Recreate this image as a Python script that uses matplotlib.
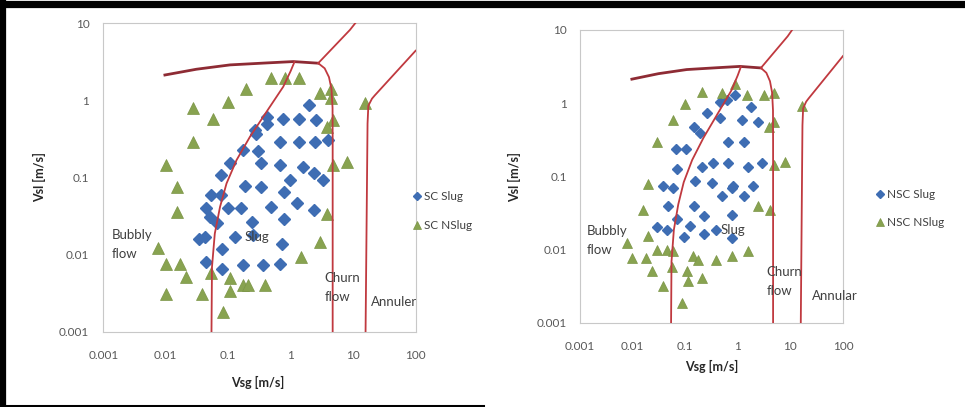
import matplotlib.pyplot as plt
from matplotlib.lines import Line2D
from matplotlib.ticker import FixedLocator, FixedFormatter, NullLocator

# ---------------------------------------------------------------
# flow regime map boundaries (same map on both panels)
# ---------------------------------------------------------------
bubbly_slug_vsg = [0.054, 0.055, 0.061, 0.074, 0.094, 0.136, 0.223, 0.412, 0.76, 1.0, 1.15]
bubbly_slug_vsl = [0.001, 0.0069, 0.0187, 0.0416, 0.0836, 0.168, 0.337, 0.713, 1.5, 2.4, 3.15]

dispersed_vsg = [0.0097, 0.031, 0.107, 0.40, 1.1, 2.76]
dispersed_vsl = [2.13, 2.53, 2.88, 3.05, 3.18, 3.03]

upper_vsg = [2.76, 8.9, 10.8]
upper_vsl = [3.03, 8.2, 10.0]

slug_churn_vsg = [2.76, 3.5, 4.1, 4.5, 4.68, 4.7, 4.7]
slug_churn_vsl = [3.03, 2.6, 2.0, 1.4, 0.8, 0.3, 0.001]

annular_vsg = [15.8, 17.0, 17.5, 20.0, 22.0, 100.0]
annular_vsl = [0.001, 0.5, 0.85, 1.05, 1.15, 4.4]

# ---------------------------------------------------------------
# measured points
# ---------------------------------------------------------------
sc_slug_vsg = [1.99, 0.42, 0.42, 0.74, 1.37, 2.54, 0.27, 0.28, 0.17, 0.30,
               0.67, 1.37, 2.44, 4.0, 0.34, 0.67, 1.59, 2.36, 3.32, 0.107,
               0.078, 0.97, 0.185, 0.334, 0.78, 0.054, 0.078, 0.0435, 0.10, 0.16,
               0.477, 1.24, 2.36, 0.051, 0.065, 0.237, 0.78, 0.0344, 0.0425, 0.128,
               0.246, 0.716, 0.080, 0.0435, 0.080, 0.17, 0.364, 0.673]
sc_slug_vsl = [0.87, 0.61, 0.50, 0.58, 0.58, 0.56, 0.41, 0.37, 0.23, 0.22,
               0.29, 0.29, 0.29, 0.305, 0.152, 0.145, 0.138, 0.113, 0.092, 0.152,
               0.107, 0.092, 0.077, 0.0756, 0.065, 0.059, 0.059, 0.0396, 0.0396, 0.0396,
               0.0416, 0.047, 0.0376, 0.0308, 0.0253, 0.0266, 0.0285, 0.0157, 0.0170, 0.0170,
               0.0178, 0.0139, 0.0117, 0.0080, 0.0065, 0.0073, 0.0073, 0.0076]

sc_nslug_vsg = [0.0101, 0.0149, 0.0149, 0.0276, 0.0577, 0.0276, 0.100, 0.192, 0.477, 0.81,
                1.37, 2.94, 4.41, 4.41, 4.81, 3.76, 4.81, 7.86, 15.6, 3.76,
                2.94, 1.44, 0.0074, 0.0101, 0.0169, 0.021, 0.0101, 0.0375, 0.054, 0.107,
                0.107, 0.174, 0.21, 0.387, 0.0813]
sc_nslug_vsl = [0.145, 0.0756, 0.0358, 0.79, 0.58, 0.29, 0.96, 1.39, 1.97, 1.97,
                1.97, 1.26, 1.39, 1.06, 0.56, 0.455, 0.147, 0.16, 0.93, 0.034,
                0.0146, 0.0093, 0.012, 0.0076, 0.0076, 0.0051, 0.0031, 0.0031, 0.0057, 0.0049,
                0.0034, 0.0040, 0.0040, 0.0040, 0.0018]

nsc_slug_vsg = [0.893, 0.62, 0.463, 1.77, 0.258, 0.463, 1.19, 2.48, 0.150, 0.192,
                0.667, 1.29, 0.0672, 0.104, 0.345, 0.667, 0.207, 1.60, 2.87, 0.0692,
                0.155, 0.321, 0.0385, 0.0598, 0.83, 0.771, 1.99, 0.498, 1.32, 0.0466,
                0.150, 0.0692, 0.233, 0.771, 0.0297, 0.0447, 0.121, 0.0955, 0.233, 0.388,
                0.771]
nsc_slug_vsl = [1.30, 1.11, 1.05, 0.90, 0.73, 0.62, 0.59, 0.56, 0.48, 0.39,
                0.30, 0.30, 0.236, 0.236, 0.155, 0.155, 0.134, 0.134, 0.155, 0.126,
                0.0855, 0.081, 0.0746, 0.0693, 0.0746, 0.0693, 0.0746, 0.0534, 0.0534, 0.0398,
                0.0398, 0.0262, 0.0291, 0.030, 0.0204, 0.0184, 0.0212, 0.0149, 0.0165, 0.0184,
                0.0144]

nsc_nslug_vsg = [0.207, 0.0998, 0.0598, 0.0288, 0.0200, 0.0156, 0.0080, 0.0096, 0.0180, 0.0297,
                 0.0447, 0.0200, 0.0231, 0.0385, 0.0573, 0.0887, 0.107, 0.115, 0.144, 0.179,
                 0.207, 0.388, 0.771, 1.60, 2.48, 4.14, 0.498, 0.893, 1.49, 3.09,
                 4.79, 4.79, 3.85, 4.79, 7.98, 16.6, 0.0598]
nsc_nslug_vsl = [1.44, 0.98, 0.59, 0.30, 0.079, 0.0351, 0.0123, 0.0077, 0.0077, 0.0100,
                 0.0100, 0.0152, 0.0051, 0.0032, 0.0059, 0.0019, 0.0051, 0.0037, 0.0081, 0.0073,
                 0.0041, 0.0073, 0.0083, 0.0095, 0.0398, 0.0351, 1.37, 1.84, 1.30, 1.30,
                 1.37, 0.56, 0.48, 0.144, 0.160, 0.92, 0.0095]

x_ticks = [0.001, 0.01, 0.1, 1, 10, 100]
x_tick_labels = ['0.001', '0.01', '0.1', '1', '10', '100']
y_ticks = [0.001, 0.01, 0.1, 1, 10]
y_tick_labels = ['0.001', '0.01', '0.1', '1', '10']

BLUE = '#3e6db3'
GREEN = '#88a350'
RED = '#c0393f'
DARKRED = '#8e2b34'
TEXT = '#404040'

plt.rcParams['font.family'] = ['Lato', 'DejaVu Sans']

fig = plt.figure(figsize=(9.65, 4.07), dpi=100)


def draw_panel(rect, slug_x, slug_y, nslug_x, nslug_y, names, slug_pos,
               annular_text, annular_pos, legend_anchor, dia_size, tri_size,
               xpad, ypad, xlabel_pos, ylabel_pos):
    ax = fig.add_axes(rect)
    ax.set_xscale('log')
    ax.set_yscale('log')
    ax.set_xlim(0.001, 100)
    ax.set_ylim(0.001, 10)

    ax.plot(slug_x, slug_y, 'D', ms=dia_size, color=BLUE, mec=BLUE,
            ls='none', label=names[0], zorder=2)
    ax.plot(nslug_x, nslug_y, '^', ms=tri_size, color=GREEN, mec='#7b9446',
            mew=0.5, ls='none', label=names[1], zorder=2)

    # regime boundaries
    ax.plot(dispersed_vsg, dispersed_vsl, color=DARKRED, lw=2.0, zorder=3)
    for xs, ys in [(bubbly_slug_vsg, bubbly_slug_vsl), (upper_vsg, upper_vsl),
                   (slug_churn_vsg, slug_churn_vsl), (annular_vsg, annular_vsl)]:
        ax.plot(xs, ys, color=RED, lw=1.3, zorder=3)

    ax.text(0.00136, 0.0135, 'Bubbly\nflow', fontsize=9.5, color=TEXT,
            ha='left', va='center', linespacing=1.7)
    ax.text(slug_pos[0], slug_pos[1], 'Slug', fontsize=9.5, color=TEXT,
            ha='center', va='center', zorder=4)
    ax.text(3.5, 0.0037, 'Churn\nflow', fontsize=9.5, color=TEXT,
            ha='left', va='center', linespacing=1.7)
    ax.text(annular_pos[0], annular_pos[1], annular_text, fontsize=9.5,
            color=TEXT, ha='left', va='center')

    ax.xaxis.set_major_locator(FixedLocator(x_ticks))
    ax.xaxis.set_major_formatter(FixedFormatter(x_tick_labels))
    ax.yaxis.set_major_locator(FixedLocator(y_ticks))
    ax.yaxis.set_major_formatter(FixedFormatter(y_tick_labels))
    ax.xaxis.set_minor_locator(NullLocator())
    ax.yaxis.set_minor_locator(NullLocator())
    ax.tick_params(axis='x', length=0, pad=xpad, labelsize=8.5, labelcolor='#595959')
    ax.tick_params(axis='y', length=0, pad=ypad, labelsize=8.5, labelcolor='#595959')
    for sp in ax.spines.values():
        sp.set_color('#c8c8c8')
        sp.set_linewidth(0.8)

    ax.set_xlabel('Vsg [m/s]', fontsize=9, fontweight='bold', color='#262626', va='center')
    ax.xaxis.set_label_coords(*xlabel_pos)
    ax.set_ylabel('Vsl [m/s]', fontsize=9, fontweight='bold', color='#262626', va='center')
    ax.yaxis.set_label_coords(*ylabel_pos)

    ax.legend(loc='center left', bbox_to_anchor=legend_anchor,
              bbox_transform=fig.transFigure, frameon=False, fontsize=8.5,
              handlelength=0.6, handletextpad=0.25, labelspacing=1.5,
              borderpad=0, borderaxespad=0, markerscale=0.7,
              labelcolor=TEXT)
    return ax


draw_panel([0.107, 0.185, 0.3237, 0.758], sc_slug_vsg, sc_slug_vsl,
           sc_nslug_vsg, sc_nslug_vsl, ['SC Slug', 'SC NSlug'], (0.285, 0.0169),
           'Annuler', (19.3, 0.0024), (0.4285, 0.4816), 5.8, 8.2,
           13, 10, (0.495, -0.166), (-0.203, 0.50))

draw_panel([0.601, 0.2064, 0.2725, 0.720], nsc_slug_vsg, nsc_slug_vsl,
           nsc_nslug_vsg, nsc_nslug_vsl, ['NSC Slug', 'NSC NSlug'], (0.794, 0.0187),
           'Annular', (25.7, 0.0023), (0.9083, 0.4877), 5.4, 7.6,
           13, 9.5, (0.502, -0.150), (-0.247, 0.498))

# black frame around the figure
fig.add_artist(Line2D([0, 1], [1 - 3.5 / 407, 1 - 3.5 / 407], color='black', lw=5.2))
fig.add_artist(Line2D([3 / 965, 3 / 965], [0, 1], color='black', lw=4.5))
fig.add_artist(Line2D([0, 0.5], [1.5 / 407, 1.5 / 407], color='black', lw=2.2))

fig.savefig('out.png', dpi=100, facecolor='white')
